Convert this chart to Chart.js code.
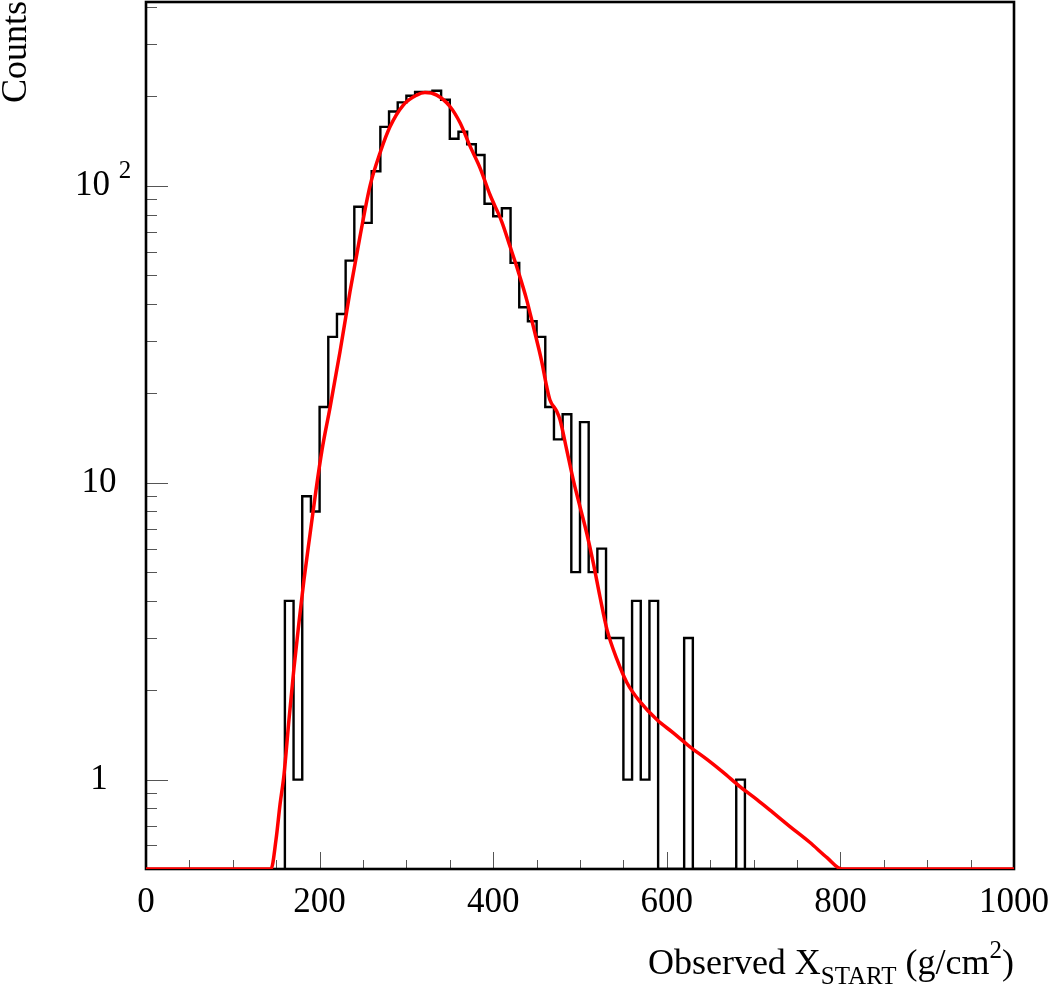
<!DOCTYPE html>
<html><head><meta charset="utf-8">
<script src="https://cdn.jsdelivr.net/npm/chart.js@4/dist/chart.umd.min.js"></script>
<style>html,body{margin:0;padding:0;background:#fff;overflow:hidden}</style>
</head><body>
<canvas id="c" width="1049" height="988"></canvas>
<script>
// ---- data ----
const binWidth = 10;
const binLeft = [160,170,180,190,200,210,220,230,240,250,260,270,280,290,300,310,320,330,340,350,
                 360,370,380,390,400,410,420,430,440,450,460,470,480,490,500,510,520,530,540,550,
                 560,570,580,590,600,610,620,630,640,650,660,670,680];
const counts  = [4,1,9,8,18,31,37,56,85,75,112,158,178,191,201,207,207,209,195,144,
                 152,138,127,87,79,84,55,39,35,31,18,14,17,5,16,5,6,3,3,1,
                 4,1,4,0,0,0,3,0,0,0,0,0,1];
const fitX = [0,144.0,149.8,154.4,159.0,164.7,170.5,176.3,182.0,188.9,195.9,202.8,212.0,223.5,235.0,246.5,258.1,269.6,
              281.1,296.4,311.9,321.4,334.9,350.2,361.8,373.3,384.8,396.3,409.8,419.4,428.9,438.6,446.2,
              455.9,461.6,465.4,473.2,477.0,484.7,492.3,500.0,507.7,515.3,523.0,531.1,542.6,554.1,569.1,
              588.7,607.1,626.7,646.3,664.7,684.3,703.9,722.4,741.9,765.0,784.6,801.8,1000];
const fitY = [0.5,0.5,0.628,0.824,1.04,1.59,2.38,3.40,4.71,6.68,9.47,12.9,17.9,27.6,44.0,67.4,100,129,
              158,187,202,206,202,185,163,136,115,93.3,75.8,62.5,51.4,41.3,33.6,
              25.6,21.1,19.0,17.4,16.3,12.9,10.2,8.3,6.77,5.37,4.13,3.2,2.54,2.12,1.83,
              1.59,1.44,1.29,1.17,1.06,0.947,0.856,0.774,0.695,0.614,0.546,0.5,0.5];
const xMin = 0, xMax = 1000;
const yMin = 0.5, yMax = 416;
const xTickValues = [0,200,400,600,800,1000];
const xTickLabels = ['0','200','400','600','800','1000'];
const yTickValues = [1,10,100];
const yTickLabels = ['1','10','10^2'];
const xTitle = ['Observed X', 'START', ' (g/cm', '2', ')'];
const yTitle = 'Counts';

// ---- build datasets ----
const histPts = [{x: binLeft[0], y: yMin}];
binLeft.forEach((x, i) => histPts.push({x: x, y: counts[i] > 0 ? counts[i] : yMin}));
histPts.push({x: binLeft[binLeft.length - 1] + binWidth, y: yMin});
const fitPts = fitX.map((x, i) => ({x: x, y: fitY[i]}));

const SERIF = '"Liberation Serif", "DejaVu Serif", serif';

const rootAxes = {
  id: 'rootAxes',
  beforeDatasetsDraw(chart) {
    const {ctx, chartArea: a, scales: {x, y}} = chart;
    ctx.save();
    ctx.strokeStyle = '#555';
    ctx.lineWidth = 1;
    for (let v = xMin; v <= xMax; v += 50) {
      const px = Math.round(x.getPixelForValue(v)) + 0.5;
      const len = (v % 200 === 0) ? 17 : 9;
      ctx.beginPath(); ctx.moveTo(px, a.bottom); ctx.lineTo(px, a.bottom - len); ctx.stroke();
    }
    for (let dec = 0.1; dec <= 1000; dec *= 10) {
      for (let m = 1; m <= 9; m++) {
        const v = dec * m;
        if (v < yMin || v > yMax) continue;
        const py = Math.round(y.getPixelForValue(v)) + 0.5;
        const len = (m === 1) ? 22 : 11;
        ctx.beginPath(); ctx.moveTo(a.left, py); ctx.lineTo(a.left + len, py); ctx.stroke();
      }
    }
    ctx.strokeStyle = '#000';
    ctx.lineWidth = 2.6;
    ctx.strokeRect(a.left, a.top, a.right - a.left, a.bottom - a.top);
    ctx.restore();
  },
  afterDraw(chart) {
    const {ctx, chartArea: a, scales: {x, y}} = chart;
    ctx.save();
    ctx.fillStyle = '#000';
    ctx.font = '35px ' + SERIF;
    ctx.textAlign = 'center';
    ctx.textBaseline = 'alphabetic';
    xTickValues.forEach((v, i) => {
      ctx.fillText(xTickLabels[i], x.getPixelForValue(v), a.bottom + 43);
    });
    yTickValues.forEach((v, i) => {
      const py = y.getPixelForValue(v);
      const parts = yTickLabels[i].split('^');
      ctx.font = '35px ' + SERIF;
      ctx.textBaseline = 'middle';
      if (parts.length === 1) {
        ctx.textAlign = 'center';
        ctx.fillText(parts[0], 99, py);
      } else {
        ctx.textAlign = 'left';
        ctx.fillText(parts[0], 75, py);
        const w = ctx.measureText(parts[0] + ' ').width;
        ctx.font = '25px ' + SERIF;
        ctx.fillText(parts[1], 75 + w, py - 14);
      }
    });
    const big = '36px ' + SERIF, small = '25px ' + SERIF;
    const pieces = [
      {t: xTitle[0], f: big, dy: 0},
      {t: xTitle[1], f: small, dy: 10},
      {t: xTitle[2], f: big, dy: 0},
      {t: xTitle[3], f: small, dy: -16},
      {t: xTitle[4], f: big, dy: 0}
    ];
    let total = 0;
    pieces.forEach(p => { ctx.font = p.f; p.w = ctx.measureText(p.t).width; total += p.w; });
    let cx = a.right - total;
    const base = 974;
    ctx.textAlign = 'left';
    ctx.textBaseline = 'alphabetic';
    pieces.forEach(p => { ctx.font = p.f; ctx.fillText(p.t, cx, base + p.dy); cx += p.w; });
    ctx.translate(26, 1);
    ctx.rotate(-Math.PI / 2);
    ctx.font = '36px ' + SERIF;
    ctx.textAlign = 'right';
    ctx.fillText(yTitle, 0, 0);
    ctx.restore();
  }
};

new Chart(document.getElementById('c'), {
  type: 'line',
  data: {
    datasets: [
      {
        label: 'fit',
        data: fitPts,
        borderColor: 'rgb(255,0,0)',
        borderWidth: 3.5,
        pointRadius: 0,
        cubicInterpolationMode: 'monotone',
        fill: false,
        order: 0
      },
      {
        label: 'hist',
        data: histPts,
        borderColor: '#000',
        borderWidth: 2.4,
        pointRadius: 0,
        stepped: 'before',
        fill: false,
        order: 1
      }
    ]
  },
  options: {
    responsive: false,
    animation: false,
    devicePixelRatio: 1,
    layout: {padding: {left: 146, right: 35, top: 2, bottom: 119}},
    plugins: {legend: {display: false}, tooltip: {enabled: false}, title: {display: false}},
    scales: {
      x: {type: 'linear', min: xMin, max: xMax, display: false},
      y: {type: 'logarithmic', min: yMin, max: yMax, display: false}
    }
  },
  plugins: [rootAxes]
});
</script>
</body></html>
